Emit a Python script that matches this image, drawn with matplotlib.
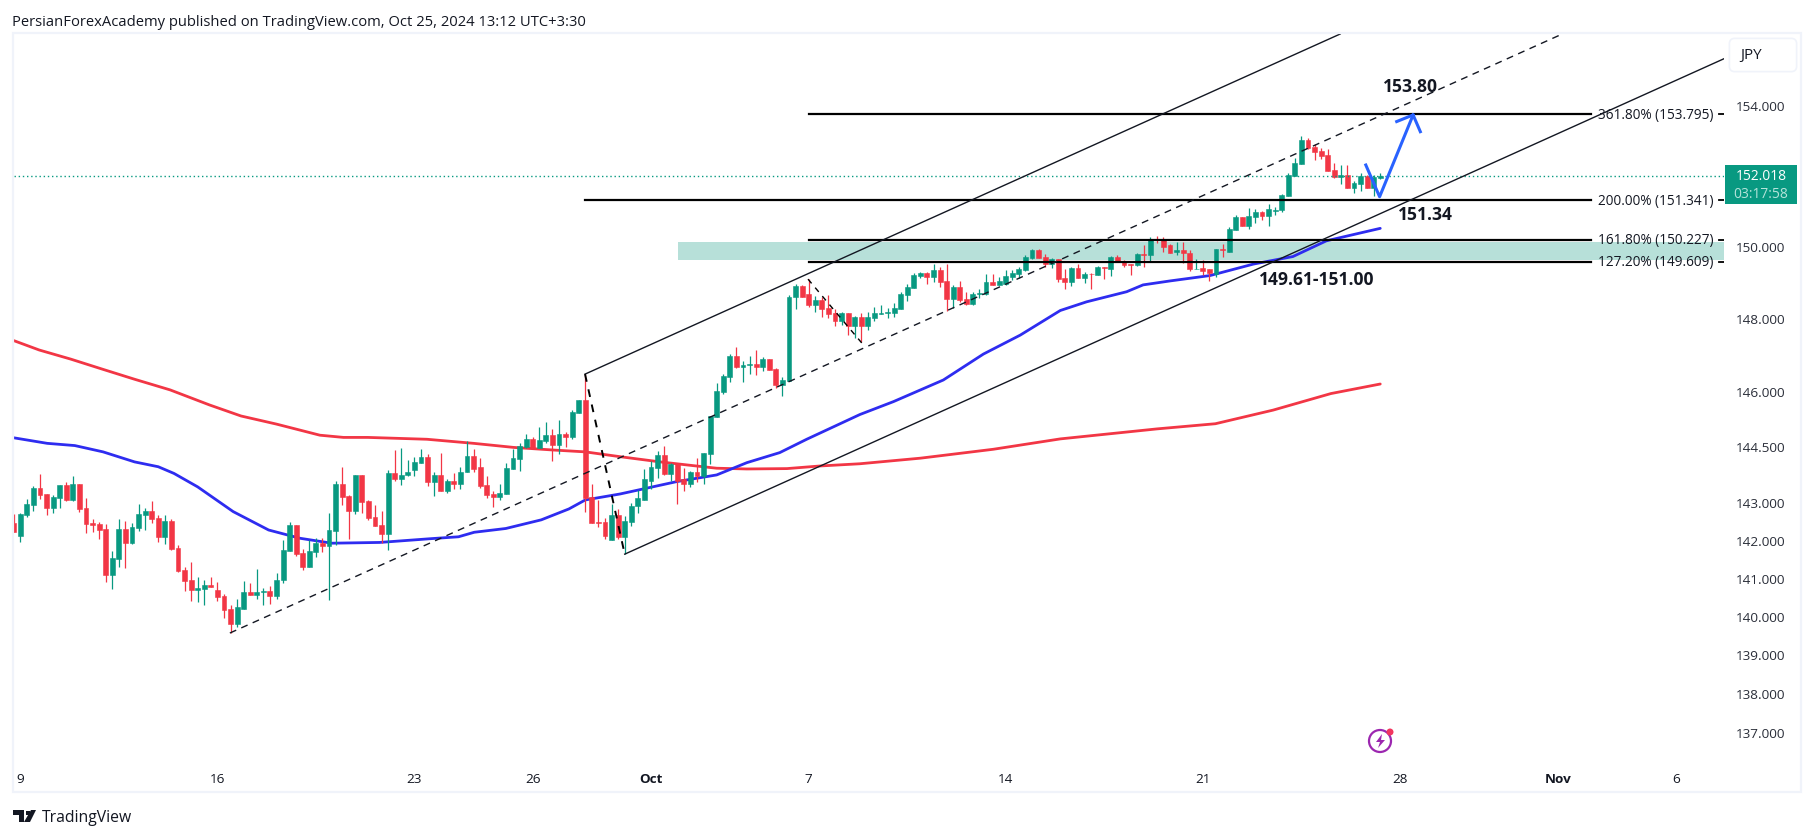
import matplotlib
matplotlib.use('Agg')
import matplotlib.pyplot as plt
from matplotlib.patches import Rectangle, FancyBboxPatch, Ellipse, Polygon
from matplotlib.ticker import NullLocator
from matplotlib.transforms import ScaledTranslation

plt.rcParams['font.family'] = ['Open Sans', 'DejaVu Sans']

# 4h candles, index 0 is the leftmost one
highs = [142.73,142.77,143.13,143.47,143.81,143.26,143.23,143.52,143.58,143.74,
143.55,143.15,142.60,142.52,142.46,141.75,142.60,142.54,142.49,142.99,
142.89,143.07,142.70,142.70,142.60,141.91,141.33,141.46,141.06,140.98,
141.06,140.93,140.61,140.32,140.48,140.96,140.92,141.27,140.79,140.84,
141.16,142.04,142.52,142.44,141.80,142.04,142.09,142.09,142.76,143.63,
143.98,143.24,143.79,143.79,143.10,142.97,142.81,143.90,144.46,144.51,
144.17,144.25,144.49,144.33,143.87,144.38,143.66,143.82,143.98,144.70,
144.49,144.23,143.74,143.34,143.53,144.09,144.47,144.63,144.87,144.79,
145.06,145.22,145.01,145.25,144.93,145.52,145.81,146.51,143.53,143.12,
142.64,142.99,142.88,142.69,143.02,143.37,143.93,144.15,144.41,144.55,
144.09,144.09,143.96,143.88,144.23,144.36,145.38,146.27,146.52,147.07,
147.26,146.88,147.02,147.18,146.99,146.93,146.69,146.44,148.70,149.00,
148.98,149.14,148.67,148.64,148.70,148.29,148.23,148.20,148.12,148.18,
148.23,148.37,148.40,148.34,148.48,148.76,149.00,149.31,149.34,149.33,
149.55,149.47,149.55,148.97,149.08,148.77,148.77,148.86,149.28,149.28,
149.19,149.39,149.39,149.47,149.80,149.97,149.97,149.83,149.72,149.69,
149.41,149.47,149.55,149.33,149.30,149.50,149.47,149.78,149.80,149.66,
149.55,149.86,150.08,150.30,150.33,150.30,150.10,150.18,150.16,149.93,
149.68,149.65,149.42,149.96,150.10,150.58,150.92,150.86,151.11,151.09,
151.03,151.23,151.14,151.51,152.10,152.55,153.17,153.11,152.94,152.83,
152.80,152.41,152.33,152.35,151.90,152.10,152.07,152.07,152.10]

lows = [142.26,142.00,142.65,142.81,143.13,142.70,142.76,142.89,143.07,143.07,
142.78,142.23,142.25,142.07,140.93,140.74,141.33,141.30,141.93,142.28,
142.30,142.49,141.99,141.93,141.78,141.19,140.69,140.45,140.40,140.32,
140.80,140.45,139.98,139.60,139.76,140.24,140.60,140.50,140.34,140.37,
140.50,140.90,141.75,141.61,141.24,141.32,141.59,141.72,140.47,141.91,
142.97,142.07,142.73,142.76,142.57,142.41,141.96,141.77,143.61,143.50,
143.74,143.74,144.11,143.48,143.21,143.34,143.29,143.40,143.40,143.85,
143.85,143.42,143.15,142.91,143.12,143.26,143.93,143.88,144.50,144.50,
144.50,144.63,144.15,144.33,144.52,144.76,145.46,142.80,142.50,142.40,
142.07,142.05,142.07,141.67,142.42,142.77,143.12,143.39,143.69,143.77,
143.61,142.99,143.34,143.45,143.58,143.55,144.07,145.33,145.97,146.30,
146.69,146.30,146.52,146.49,146.60,146.63,146.13,145.91,146.33,148.31,
148.64,148.37,148.23,148.07,148.04,147.84,147.87,147.57,147.51,147.38,
147.73,147.98,148.15,148.04,148.09,148.29,148.53,148.89,149.17,149.00,
149.05,148.91,148.25,148.33,148.50,148.41,148.41,148.61,148.69,148.97,
148.97,148.97,149.11,149.16,149.36,149.69,149.72,149.47,149.44,149.05,
148.86,148.94,149.16,149.03,148.86,149.25,149.14,149.22,149.61,149.47,
149.25,149.50,149.47,149.64,150.14,149.90,149.87,149.79,149.59,149.37,
149.40,149.25,149.09,149.20,149.76,149.90,150.49,150.61,150.52,150.69,
150.78,150.63,150.92,151.00,151.45,152.04,152.38,152.80,152.47,152.52,
152.18,151.96,151.79,151.68,151.56,151.59,151.68,151.45,151.93]

body_top = [142.49,142.73,142.99,143.42,143.42,143.26,143.18,143.50,143.50,143.55,
143.55,142.89,142.49,142.46,142.33,141.56,142.33,142.33,142.38,142.73,
142.81,142.81,142.62,142.54,142.54,141.83,141.25,140.98,140.77,140.85,
140.85,140.72,140.56,140.24,140.27,140.66,140.66,140.68,140.71,140.71,
141.00,141.77,142.44,142.44,141.69,141.75,141.96,141.96,142.31,143.53,
143.53,143.21,143.79,143.79,143.08,142.65,142.44,143.82,143.82,143.79,
143.87,144.14,144.27,144.27,143.79,143.79,143.61,143.61,143.87,144.30,
144.30,143.98,143.50,143.26,143.29,143.96,144.23,144.55,144.76,144.76,
144.71,144.85,144.85,144.87,144.87,145.49,145.81,145.81,143.18,142.53,
142.53,142.72,142.72,142.56,142.96,143.15,143.66,143.98,144.31,144.31,
144.07,144.07,143.66,143.85,143.85,144.36,145.38,146.05,146.46,147.02,
147.02,146.77,146.80,146.80,146.93,146.93,146.66,146.35,148.64,148.95,
148.95,148.73,148.56,148.56,148.34,148.18,148.20,148.20,148.09,148.09,
148.07,148.18,148.20,148.23,148.34,148.73,148.92,149.25,149.31,149.31,
149.39,149.39,149.08,148.91,148.91,148.58,148.72,148.75,149.05,149.05,
149.08,149.22,149.30,149.41,149.75,149.94,149.94,149.75,149.69,149.69,
149.16,149.44,149.44,149.28,149.28,149.47,149.47,149.75,149.75,149.64,
149.55,149.83,149.83,150.22,150.22,150.24,150.07,149.93,149.93,149.87,
149.42,149.45,149.40,149.96,149.96,150.52,150.86,150.86,150.89,151.00,
151.00,151.09,151.06,151.48,152.07,152.41,153.06,153.06,152.86,152.75,
152.63,152.21,152.07,152.07,151.82,152.02,152.02,151.99,152.04]

body_bot = [142.26,142.15,142.70,142.97,143.23,142.89,142.89,143.15,143.10,143.10,
142.86,142.46,142.44,142.30,141.11,141.11,141.54,141.96,141.96,142.36,
142.70,142.60,142.12,142.12,141.80,141.22,140.96,140.72,140.72,140.74,
140.80,140.53,140.21,139.84,139.84,140.24,140.60,140.60,140.68,140.58,
140.58,140.98,141.75,141.67,141.32,141.32,141.72,141.88,141.88,142.28,
143.18,142.81,142.81,143.05,142.62,142.41,142.20,142.20,143.66,143.66,
143.77,143.90,144.11,143.58,143.58,143.34,143.34,143.55,143.55,143.85,
143.95,143.47,143.23,143.18,143.18,143.26,143.93,144.20,144.52,144.50,
144.50,144.68,144.58,144.58,144.79,144.79,145.46,143.15,142.50,142.50,
142.16,142.05,142.13,142.13,142.53,142.94,143.12,143.63,143.96,143.80,
143.80,143.63,143.55,143.55,143.74,143.74,144.33,145.33,146.02,146.44,
146.71,146.71,146.77,146.71,146.71,146.63,146.22,146.22,146.33,148.62,
148.64,148.42,148.42,148.31,148.15,147.98,147.98,147.82,147.82,147.82,
147.82,148.04,148.15,148.18,148.20,148.31,148.70,148.89,149.22,149.20,
149.19,149.05,148.58,148.58,148.55,148.44,148.44,148.72,148.72,148.97,
148.97,149.00,149.19,149.28,149.39,149.72,149.72,149.55,149.55,149.14,
149.05,149.05,149.16,149.16,149.26,149.25,149.45,149.41,149.61,149.53,
149.53,149.53,149.81,149.80,150.21,150.04,149.87,149.90,149.85,149.40,
149.40,149.37,149.31,149.28,149.94,149.90,150.49,150.61,150.61,150.86,
150.89,150.89,151.04,151.06,151.45,152.04,152.38,152.83,152.72,152.61,
152.18,151.99,151.99,151.68,151.68,151.79,151.68,151.68,151.96]

direction = ("RGGGRRGGRG" "RRRRRGGRGG" "GRRGRRRRGG" "RRRRGGRGGR" "GGGRRGGRGG"
             "RRGRRRRGRG" "GGGRGRGRGG" "RRRRGGGGGR" "GGRGRGGRRR" "RGRGGGGGGR"
             "GRRGRGGGGG" "RGGRGRRGGG" "RRGRRRGRGR" "GGGGGGGGGR" "GRRGRRGGGR"
             "GGGGGGRRGR" "RGRGRGRGRR" "RGRGRRRGRR" "GRRGRGGRGG" "RGGGGGGRRR"
             "RRGRGGRGG")

# moving averages, read at a few candles
ma_red_x = [0,3.9,8.7,13.6,18.4,23.8,29.8,34.6,40,46.6,50.2,53.9,62.9,70,76.1,82.1,87,92.3,
            98.4,103.4,107,111.6,117.7,122.7,128.8,138,149.1,159.3,174,182.9,191.7,200.5,208]
ma_red = [147.43,147.17,146.92,146.64,146.37,146.08,145.67,145.37,145.15,144.85,144.79,144.79,144.74,144.63,144.52,144.45,144.40,144.27,
          144.13,144.03,143.96,143.94,143.95,144.02,144.08,144.23,144.47,144.75,145.02,145.16,145.53,145.98,146.24]
ma_blue_x = [0,5.1,9.3,13.6,18.4,22,24.4,28,33.4,38.8,43.6,48.4,55.7,63.5,67.7,70.1,74.9,80.3,84.5,87,92.3,
             100.9,107,111.6,116.6,120.7,128.8,133.9,141.5,147.6,153.2,159.3,163.3,169.4,171.9,176,182.1,188.7,194.7,199.8,208]
ma_blue = [144.78,144.63,144.57,144.40,144.13,144.00,143.82,143.46,142.80,142.31,142.09,141.96,141.98,142.08,142.13,142.25,142.35,142.58,142.87,143.11,143.27,
           143.60,143.78,144.11,144.38,144.74,145.41,145.76,146.35,147.06,147.58,148.26,148.50,148.78,148.97,149.08,149.23,149.55,149.76,150.20,150.55]

# fib levels
fib_levels = [153.795, 151.341, 150.227, 149.609]
fib_start = [121, 87, 121, 121]
fib_labels = ['361.80% (153.795)', '200.00% (151.341)', '161.80% (150.227)', '127.20% (149.609)']

price_ticks = [154, 150, 148, 146, 144.5, 143, 142, 141, 140, 139, 138, 137]
price_labels = ['154.000', '150.000', '148.000', '146.000', '144.500', '143.000', '142.000',
                '141.000', '140.000', '139.000', '138.000', '137.000']
date_ticks = [1, 31, 61, 79, 97, 121, 151, 181, 211, 235, 253]
date_labels = ['9', '16', '23', '26', 'Oct', '7', '14', '21', '28', 'Nov', '6']

last_price = 152.018
GREEN = '#089981'
RED = '#f23645'
BLUE = '#2e2cf0'
BORDER = '#f0f3fa'
W, H = 1814, 837


def fx(x):
    return x / W


def fy(y):
    return 1 - y / H


fig = plt.figure(figsize=(W / 100, H / 100), dpi=100, facecolor='white')
ax = fig.add_axes([fx(14), fy(793), fx(1724 - 14), (793 - 35) / H])
ax.set_facecolor('none')
for s in ax.spines.values():
    s.set_visible(False)

ax.set_yscale('log')
ax.set_xlim((14 - 13.7) / 6.57, (1724 - 13.7) / 6.57)
ax.set_ylim(135.52, 156.11)

# zone under everything
ax.add_patch(Rectangle((101.1, 149.66), 260.3 - 101.1, 150.17 - 149.66, color='#b7e0d9', lw=0, zorder=1))

ax.plot(ma_red_x, ma_red, color=RED, lw=2.0, zorder=2, solid_capstyle='round', solid_joinstyle='round')
ax.plot(ma_blue_x, ma_blue, color=BLUE, lw=2.0, zorder=2, solid_capstyle='round', solid_joinstyle='round')

xs = list(range(len(highs)))
colors = [GREEN if d == 'G' else RED for d in direction]
ax.vlines(xs, lows, highs, colors=colors, lw=0.9, zorder=3)
ax.bar(xs, [t - b for t, b in zip(body_top, body_bot)], bottom=body_bot, width=0.74,
       color=colors, edgecolor=colors, lw=0.4, zorder=3)

# fib lines and labels
for lev, st, lab in zip(fib_levels, fib_start, fib_labels):
    ax.plot([st, 240], [lev, lev], color='black', lw=1.6, zorder=4)
    ax.text(241.15, lev, lab, va='center', ha='left', fontsize=9.8, color='#131722', zorder=6)
    ax.plot([259.6, 260.3], [lev, lev], color='black', lw=1.3, zorder=4)

ax.axhline(last_price, color=GREEN, lw=1, ls=(0, (1, 2)), zorder=3)

# channel
ax.plot([86.96, 201.9], [146.51, 156.11], color='#131722', lw=1, zorder=5)
ax.plot([93.0, 260.3], [141.67, 155.39], color='#131722', lw=1, zorder=5)
ax.plot([32.9, 235.7], [139.60, 156.11], color='#131722', lw=1, ls=(0, (5, 4)), zorder=5)
ax.plot([86.96, 93.0], [146.51, 141.67], color='black', lw=1.4, ls=(0, (4, 4)), zorder=5)
ax.plot([120.9, 129.1], [149.13, 147.36], color='black', lw=1, ls=(0, (4, 4)), zorder=5)

# forecast arrow
ax.plot([205.8, 207.9, 213.0], [152.34, 151.44, 153.77], color='#2962ff', lw=2.2, zorder=6)
ax.plot([210.5, 213.0, 214.1], [153.58, 153.77, 153.29], color='#2962ff', lw=2.2, zorder=6)

ann = dict(ha='center', va='center', fontsize=12.6, fontweight='bold', color='#131722', zorder=7)
ax.text(212.6, 154.6, '153.80', **ann)
ax.text(214.8, 150.95, '151.34', **ann)
ax.text(198.4, 149.12, '149.61-151.00', **ann)

# axes ticks
ax.yaxis.tick_right()
ax.set_yticks(price_ticks, price_labels)
ax.yaxis.set_minor_locator(NullLocator())
ax.tick_params(axis='y', length=0, pad=8.6, labelsize=9.7, labelcolor='#2a2e39')
up2 = ScaledTranslation(0, 2 / 100, fig.dpi_scale_trans)
for t in ax.get_yticklabels():
    t.set_transform(t.get_transform() + up2)
ax.set_xticks(date_ticks, date_labels)
ax.tick_params(axis='x', length=0, pad=-14.4, labelsize=9.7, labelcolor='#131722')
for t in ax.get_xticklabels():
    if t.get_text() in ('Oct', 'Nov'):
        t.set_fontweight('bold')

# panel border
fig.add_artist(Rectangle((fx(13), fy(793)), fx(1801 - 13), (793 - 34) / H, fill=False, ec=BORDER, lw=1.6))

# last price tag
fig.add_artist(Rectangle((fx(1725), fy(205)), fx(72), 39 / H, color=GREEN, lw=0))
fig.text(fx(1761), fy(177), '152.018', color='white', fontsize=9.9, ha='center', va='center')
fig.text(fx(1761), fy(194), '03:17:58', color='#b5e3da', fontsize=9.9, ha='center', va='center')

# currency button
fig.add_artist(FancyBboxPatch((fx(1733), fy(69)), fx(60), 26 / H, boxstyle='round,pad=0.002,rounding_size=0.003',
                              fc='white', ec=BORDER, lw=1.2, mutation_aspect=W / H))
fig.text(fx(1740), fy(55), 'JPY', color='#131722', fontsize=11, ha='left', va='center')

fig.text(fx(12), fy(22), 'PersianForexAcademy published on TradingView.com, Oct 25, 2024 13:12 UTC+3:30',
         fontsize=10.6, color='#131722', ha='left', va='center')

# TradingView logo
fig.add_artist(Polygon([(fx(13), fy(811)), (fx(24), fy(811)), (fx(24), fy(823)), (fx(19), fy(823)), (fx(19), fy(816)), (fx(13), fy(816))],
                       color='#131722', lw=0))
fig.add_artist(Polygon([(fx(31), fy(811)), (fx(36), fy(811)), (fx(30), fy(823)), (fx(24), fy(823))], color='#131722', lw=0))
fig.add_artist(Rectangle((fx(26), fy(816)), fx(4), 4.5 / H, color='#131722', lw=0))
fig.text(fx(42), fy(818), 'TradingView', fontsize=11.3, color='#131722', ha='left', va='center')

# lightning icon
fig.add_artist(Ellipse((fx(1380), fy(742)), 22 / W, 22 / H, fill=False, ec='#9c27b0', lw=1.6))
fig.add_artist(Polygon([(fx(1382), fy(735)), (fx(1376), fy(743)), (fx(1380), fy(743)), (fx(1378), fy(749)),
                        (fx(1385), fy(741)), (fx(1381), fy(741))], color='#9c27b0', lw=0))
fig.add_artist(Ellipse((fx(1390), fy(733)), 7 / W, 7 / H, color='#f2365f', lw=0))

fig.savefig('out.png', dpi=100)
